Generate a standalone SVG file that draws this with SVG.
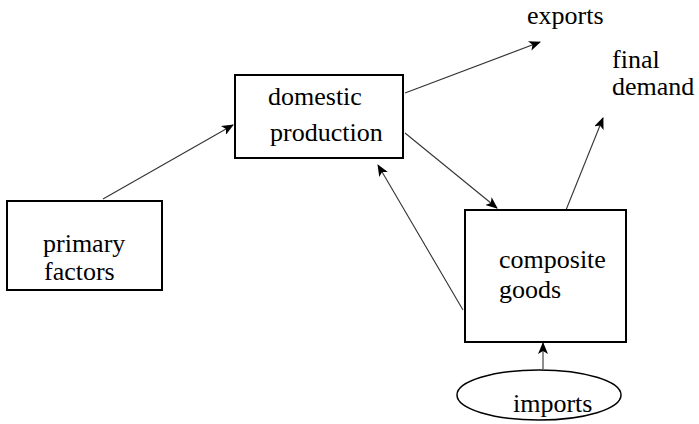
<svg xmlns="http://www.w3.org/2000/svg" width="699" height="424" viewBox="0 0 699 424">
<style>
.box{fill:#fff;stroke:#000;stroke-width:2}
.t{font-size:26px;fill:#000}
.c{fill:none;stroke:#333;stroke-width:1.1}
</style>
<defs>
<marker id="ah" viewBox="0 0 12 10" refX="11" refY="5" markerWidth="12" markerHeight="10" markerUnits="userSpaceOnUse" orient="auto">
<path d="M0,0 L12,5 L0,10 L3,5 Z" fill="#000"/>
</marker>
</defs>
<rect width="699" height="424" fill="#fff"/>
<g id="connectors">
<line class="c" x1="103" y1="199" x2="233" y2="125" marker-end="url(#ah)"/>
<line class="c" x1="405" y1="93" x2="540" y2="42" marker-end="url(#ah)"/>
<line class="c" x1="405" y1="133" x2="497" y2="208" marker-end="url(#ah)"/>
<line class="c" x1="463" y1="310" x2="378" y2="165" marker-end="url(#ah)"/>
<line class="c" x1="566" y1="210" x2="603" y2="118" marker-end="url(#ah)"/>
<line class="c" x1="543" y1="369" x2="543" y2="343" marker-end="url(#ah)"/>
</g>
<g font-family="Liberation Serif, DejaVu Serif, Times New Roman, serif">
<g id="domestic-production">
<rect class="box" x="235" y="75" width="168" height="83"/>
<text class="t" x="268" y="105">domestic</text>
<text class="t" x="270" y="141">production</text>
</g>
<g id="primary-factors">
<rect class="box" x="7" y="201" width="155" height="89"/>
<text class="t" x="43" y="252">primary</text>
<text class="t" x="44" y="280">factors</text>
</g>
<g id="composite-goods">
<rect class="box" x="465" y="210" width="161" height="132"/>
<text class="t" x="499" y="268">composite</text>
<text class="t" x="499" y="298">goods</text>
</g>
<g id="imports">
<ellipse cx="539" cy="395" rx="82" ry="25" fill="#fff" stroke="#000" stroke-width="1.5"/>
<text class="t" x="513" y="412">imports</text>
</g>
<g id="exports">
<text class="t" x="527" y="24">exports</text>
</g>
<g id="final-demand">
<text class="t" x="612" y="68">final</text>
<text class="t" x="612" y="95">demand</text>
</g>
</g>
</svg>
